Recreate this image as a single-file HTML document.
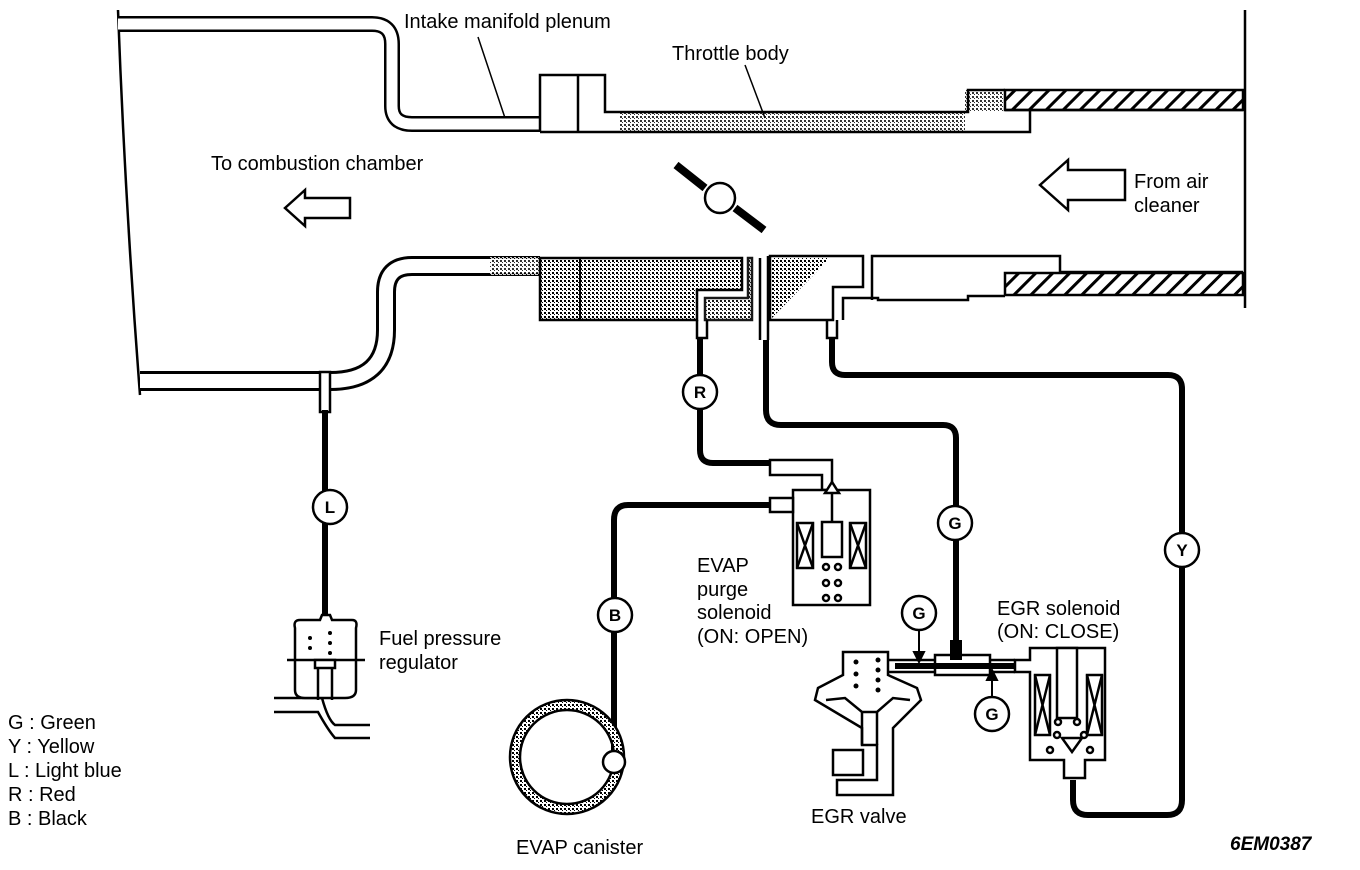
<!DOCTYPE html>
<html><head><meta charset="utf-8"><style>
html,body{margin:0;padding:0;background:#fff;}
svg{display:block;}
text{font-family:"Liberation Sans",sans-serif;font-size:20px;fill:#000;}
.lb{font-weight:bold;font-size:17px;text-anchor:middle;}
</style></head><body>
<svg width="1360" height="870" viewBox="0 0 1360 870" xmlns="http://www.w3.org/2000/svg">
<defs>
<pattern id="st" width="4" height="4" patternUnits="userSpaceOnUse"><rect width="4" height="4" fill="#fff"/><rect x="0" y="0" width="2" height="2" fill="#000"/><rect x="2" y="2" width="1" height="1" fill="#000"/></pattern>
<pattern id="ht" width="12" height="12" patternUnits="userSpaceOnUse" patternTransform="rotate(45)"><rect width="12" height="12" fill="#fff"/><rect width="3" height="12" fill="#000"/></pattern>
</defs>
<g fill="none" stroke="#000" stroke-width="2.5">
<path d="M118 10 Q125 200 140 395"/>
<path d="M1245 10 L1245 308"/>
<path d="M118 24 L372 24 Q392 24 392 44 L392 106 Q392 124 412 124 L540 124" stroke-width="16"/>
<path d="M118 24 L372 24 Q392 24 392 44 L392 106 Q392 124 412 124 L540 124" stroke="#fff" stroke-width="11"/>
</g>
<rect x="620" y="112" width="345" height="20" fill="url(#st)" opacity="0.8"/>
<rect x="965" y="90" width="45" height="22" fill="url(#st)" opacity="0.8"/>
<rect x="1005" y="90" width="238" height="20" fill="url(#ht)" stroke="#000" stroke-width="2.5"/>
<g fill="none" stroke="#000" stroke-width="2.5">
<path d="M540 131 L540 75 L605 75 L605 112 L968 112 L968 90 L1005 90"/>
<path d="M578 75 L578 132"/>
<path d="M540 132 L1030 132 L1030 110"/>
<path d="M1005 110 L1243 110"/>
</g>
<g fill="none" stroke="#000">
<path d="M140 381 L330 381 Q386 381 386 330 L386 292 Q386 266 412 266 L540 266" stroke-width="20"/>
<path d="M140 381 L330 381 Q386 381 386 330 L386 292 Q386 266 412 266 L540 266" stroke="#fff" stroke-width="14"/>
</g>
<rect x="320" y="372" width="10" height="40" fill="#fff" stroke="#000" stroke-width="2.5"/>
<rect x="490" y="257" width="50" height="18" fill="url(#st)" opacity="0.8"/>
<path d="M540 258 L742 258 L742 290 L697 290 L697 320 L540 320 Z" fill="url(#st)" stroke="#000" stroke-width="2.5"/>
<path d="M580 258 L580 320" stroke="#000" stroke-width="2"/>
<path d="M705 298 L748 298 L748 258 L752 258 L752 320 L705 320 Z" fill="url(#st)" stroke="#000" stroke-width="2.5" opacity="0.9"/>
<path d="M770 256 L863 256 L863 287 L833 287 L833 320 L770 320 Z" fill="#fff" stroke="#000" stroke-width="2.5"/>
<path d="M772 258 L830 258 L772 318 Z" fill="url(#st)"/>
<g fill="none" stroke="#000" stroke-width="2.5">
<path d="M872 300 L872 256 L1060 256 L1060 272 L1243 272"/>
<path d="M843 320 L843 298 L878 298 L878 300 L968 300 L968 296 L1005 296"/>
<path d="M768 256 L768 340 M760 258 L760 340"/>
<path d="M697 320 L697 338 L707 338 L707 320 M827 320 L827 338 L837 338 L837 320"/>
</g>
<rect x="1005" y="273" width="238" height="22" fill="url(#ht)" stroke="#000" stroke-width="2.5"/>
<circle cx="720" cy="198" r="15" fill="#fff" stroke="#000" stroke-width="2.5"/>
<path d="M676 165 L705 188 M735 208 L764 230" stroke="#000" stroke-width="8"/>
<path d="M285 208 L305 190 L305 198 L350 198 L350 218 L305 218 L305 226 Z" fill="#fff" stroke="#000" stroke-width="2.5"/>
<path d="M1040 185 L1068 160 L1068 170 L1125 170 L1125 200 L1068 200 L1068 210 Z" fill="#fff" stroke="#000" stroke-width="2.5"/>
<g fill="none" stroke="#000" stroke-width="6">
<path d="M325 410 L325 616"/>
<path d="M700 338 L700 450 Q700 463 713 463 L770 463"/>
<path d="M766 340 L766 410 Q766 425 781 425 L943 425 Q956 425 956 438 L956 660"/>
<path d="M832 338 L832 362 Q832 375 845 375 L1168 375 Q1182 375 1182 389 L1182 800 Q1182 815 1167 815 L1088 815 Q1073 815 1073 800 L1073 780"/>
<path d="M770 505 L628 505 Q614 505 614 520 L614 760"/>
</g>
<circle cx="567" cy="757" r="52" fill="none" stroke="url(#st)" stroke-width="10"/>
<circle cx="567" cy="757" r="57" fill="none" stroke="#000" stroke-width="2.5"/>
<circle cx="567" cy="757" r="47" fill="none" stroke="#000" stroke-width="2.5"/>
<circle cx="614" cy="762" r="11" fill="#fff" stroke="#000" stroke-width="2.5"/>
<g fill="#fff" stroke="#000" stroke-width="2.5">
<path d="M770 460 L832 460 L832 490 L822 490 L822 475 L770 475 Z"/>
<rect x="793" y="490" width="77" height="115"/>
<path d="M770 498 L793 498 L793 512 L770 512 Z"/>
<rect x="797" y="523" width="16" height="45"/><rect x="850" y="523" width="16" height="45"/>
<path d="M797 523 L813 568 M813 523 L797 568 M850 523 L866 568 M866 523 L850 568" fill="none"/>
<rect x="822" y="522" width="20" height="35"/>
<path d="M832 522 L832 490" fill="none"/>
<path d="M825 493 L832 482 L839 493 Z"/>
<circle cx="826" cy="567" r="3"/><circle cx="838" cy="567" r="3"/><circle cx="826" cy="583" r="3"/><circle cx="838" cy="583" r="3"/><circle cx="826" cy="598" r="3"/><circle cx="838" cy="598" r="3"/>
</g>
<g fill="#fff" stroke="#000" stroke-width="2.5">
<path d="M274 698 L322 698 Q328 720 335 725 L370 725" fill="none"/>
<path d="M274 712 L318 712 Q328 730 335 738 L370 738" fill="none"/>
<path d="M295 628 Q293 620 300 620 L320 620 L322 615 L330 615 L332 620 L352 620 Q358 620 356 628 L356 690 Q356 698 345 698 L305 698 Q295 698 295 690 Z"/>
<path d="M287 660 L365 660" fill="none"/>
<rect x="315" y="660" width="20" height="8"/>
<path d="M318 668 L318 700 M332 668 L332 700" fill="none"/>
</g>
<g fill="#000"><circle cx="310" cy="638" r="2"/><circle cx="310" cy="648" r="2"/><circle cx="330" cy="633" r="2"/><circle cx="330" cy="643" r="2"/><circle cx="330" cy="653" r="2"/></g>
<!-- EGR valve -->
<g fill="#fff" stroke="#000" stroke-width="2.5">
<path d="M843 652 L888 652 L888 675 L917 688 L921 700 L893 728 L893 795 L837 795 L837 780 L877 780 L877 745 L862 745 L862 728 L815 700 L818 688 L843 675 Z"/>
<path d="M826 700 L845 698 L862 712 L877 712 L893 698 L910 700" fill="none"/>
<rect x="833" y="750" width="30" height="25"/>
<path d="M862 712 L862 745 M877 712 L877 745" fill="none"/>
<path d="M888 660 L935 660 M888 672 L935 672" fill="none"/>
<path d="M935 655 L990 655 L990 675 L935 675 Z"/>
<path d="M990 660 L1015 660 M990 672 L1015 672" fill="none"/>
</g>
<g fill="#000"><circle cx="856" cy="662" r="2.5"/><circle cx="856" cy="674" r="2.5"/><circle cx="856" cy="686" r="2.5"/><circle cx="878" cy="660" r="2.5"/><circle cx="878" cy="670" r="2.5"/><circle cx="878" cy="680" r="2.5"/><circle cx="878" cy="690" r="2.5"/></g>
<path d="M895 666 L1025 666" stroke="#000" stroke-width="6"/>
<path d="M950 640 L962 640 L962 660 L950 660 Z" fill="#000"/>
<g fill="#fff" stroke="#000" stroke-width="2.5">
<path d="M1015 660 L1030 660 L1030 648 L1105 648 L1105 760 L1085 760 L1085 778 L1064 778 L1064 760 L1030 760 L1030 672 L1015 672 Z"/>
<rect x="1057" y="648" width="20" height="70"/>
<rect x="1035" y="675" width="15" height="60"/><rect x="1087" y="675" width="15" height="60"/>
<path d="M1035 675 L1050 735 M1050 675 L1035 735 M1087 675 L1102 735 M1102 675 L1087 735" fill="none"/>
<path d="M1062 738 L1082 738 L1072 752 Z"/>
<circle cx="1058" cy="722" r="3"/><circle cx="1077" cy="722" r="3"/><circle cx="1057" cy="735" r="3"/><circle cx="1084" cy="735" r="3"/><circle cx="1050" cy="750" r="3"/><circle cx="1090" cy="750" r="3"/>
</g>
<g stroke="#000" stroke-width="2" fill="#000">
<path d="M919 630 L919 660" fill="none"/><path d="M914 652 L919 662 L924 652 Z"/>
<path d="M992 697 L992 672" fill="none"/><path d="M987 680 L992 670 L997 680 Z"/>
</g>
<g fill="#fff" stroke="#000" stroke-width="2.5">
<circle cx="330" cy="507" r="17"/><circle cx="700" cy="392" r="17"/><circle cx="615" cy="615" r="17"/>
<circle cx="955" cy="523" r="17"/><circle cx="1182" cy="550" r="17"/><circle cx="919" cy="613" r="17"/><circle cx="992" cy="714" r="17"/>
</g>
<text class="lb" x="330" y="513">L</text><text class="lb" x="700" y="398">R</text><text class="lb" x="615" y="621">B</text>
<text class="lb" x="955" y="529">G</text><text class="lb" x="1182" y="556">Y</text><text class="lb" x="919" y="619">G</text><text class="lb" x="992" y="720">G</text>
<path d="M478 37 L505 118" stroke="#000" stroke-width="1.5"/>
<path d="M745 65 L765 118" stroke="#000" stroke-width="1.5"/>
<text x="404" y="28">Intake manifold plenum</text>
<text x="672" y="60">Throttle body</text>
<text x="211" y="170">To combustion chamber</text>
<text x="1134" y="188">From air</text>
<text x="1134" y="212">cleaner</text>
<text x="697" y="572">EVAP</text>
<text x="697" y="596">purge</text>
<text x="697" y="619">solenoid</text>
<text x="697" y="643">(ON: OPEN)</text>
<text x="997" y="615">EGR solenoid</text>
<text x="997" y="638">(ON: CLOSE)</text>
<text x="379" y="645">Fuel pressure</text>
<text x="379" y="669">regulator</text>
<text x="811" y="823">EGR valve</text>
<text x="516" y="854">EVAP canister</text>
<text x="1230" y="850" style="font-weight:bold;font-style:italic;font-size:19px">6EM0387</text>
<text x="8" y="729">G  : Green</text>
<text x="8" y="753">Y  : Yellow</text>
<text x="8" y="777">L  : Light blue</text>
<text x="8" y="801">R  : Red</text>
<text x="8" y="825">B  : Black</text>
</svg>
</body></html>
